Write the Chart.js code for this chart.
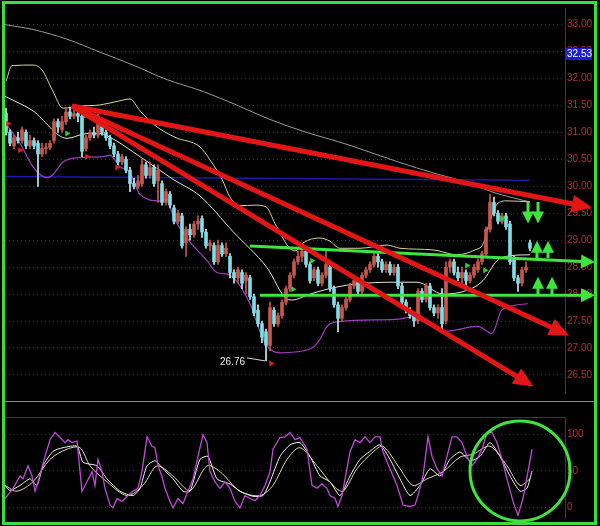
<!DOCTYPE html>
<html>
<head>
<meta charset="utf-8">
<script src="https://cdn.jsdelivr.net/npm/chart.js@4.4.1/dist/chart.umd.min.js"></script>
<style>
  html, body { margin: 0; padding: 0; background: #000; }
  #wrap { position: relative; width: 600px; height: 526px; background: #000; overflow: hidden; }
  #main { position: absolute; left: 0; top: 0; }
  #osc { position: absolute; left: 0; top: 402px; }
  #sep { position: absolute; left: 5px; top: 401px; width: 590px; height: 1px; background: #8c8c8c; }
  #frame { position: absolute; left: 2px; top: 1px; width: 595px; height: 524px; box-sizing: border-box;
           border: 3px solid #3cdc3c; pointer-events: none; }
</style>
</head>
<body>
<div id="wrap">
  <canvas id="main" width="600" height="401"></canvas>
  <div id="sep"></div>
  <canvas id="osc" width="600" height="124"></canvas>
  <div id="frame"></div>
</div>
<script>
// ---- price bars (one per bar index) ----
const opens = [31.35,31.0,30.75,30.9,30.85,31.0,30.75,30.85,30.8,30.6,
  30.7,30.72,30.85,31.2,31.05,31.2,31.38,31.3,31.35,31.3,
  30.7,30.9,31.0,30.95,31.2,31.0,30.9,30.75,30.6,30.45,
  30.5,30.3,30.05,30.0,30.05,30.4,30.2,30.35,30.1,30.05,
  29.7,29.85,29.6,29.35,29.45,28.95,29.2,29.1,29.3,29.4,
  29.15,28.9,28.9,28.6,28.9,28.75,28.7,28.4,28.3,28.4,
  28.25,28.3,27.95,27.7,27.45,27.3,27.05,27.7,27.45,27.6,
  27.85,28.1,28.35,28.6,28.7,28.8,28.55,28.3,28.45,28.2,
  28.35,28.5,28.1,27.8,27.55,27.75,27.9,28.15,28.25,28.05,
  28.35,28.45,28.55,28.7,28.6,28.45,28.55,28.4,28.5,28.15,
  27.85,27.7,27.6,27.5,28.05,27.9,28.15,27.75,27.65,27.75,
  27.5,28.5,28.6,28.4,28.3,28.4,28.25,28.35,28.45,28.6,
  28.75,29.2,29.7,29.5,29.35,29.45,29.3,28.65,28.3,28.2,
  28.45,28.95];
const closes = [31.0,30.8,30.9,30.85,31.05,30.75,30.85,30.75,30.6,30.7,
  30.72,30.8,31.2,31.1,31.2,31.38,31.3,31.35,31.3,30.65,
  30.9,31.0,30.95,31.25,31.0,30.9,30.75,30.6,30.45,30.55,
  30.3,30.05,30.0,30.1,30.4,30.2,30.35,30.05,30.3,29.7,
  29.9,29.65,29.35,29.5,28.9,29.2,29.1,29.3,29.35,29.15,
  28.9,28.95,28.6,28.9,28.75,28.85,28.4,28.3,28.45,28.2,
  28.35,27.95,27.65,27.45,27.2,27.05,27.75,27.45,27.6,27.85,
  28.1,28.35,28.6,28.7,28.8,28.55,28.25,28.45,28.2,28.35,
  28.55,28.1,27.8,27.55,27.75,27.9,28.15,28.25,28.05,28.35,
  28.45,28.55,28.7,28.6,28.45,28.55,28.4,28.5,28.15,27.85,
  27.7,27.6,27.5,28.05,27.9,28.15,27.75,27.65,27.75,27.45,
  28.5,28.6,28.4,28.3,28.4,28.25,28.35,28.5,28.6,28.75,
  29.2,29.7,29.5,29.35,29.45,29.25,28.6,28.3,28.2,28.45,
  28.5,28.85];
const highs = [31.45,31.05,30.95,31.0,31.1,31.05,30.95,30.9,30.85,30.8,
  30.8,30.85,31.25,31.25,31.3,31.45,31.47,31.42,31.4,31.35,
  30.95,31.05,31.1,31.35,31.25,31.05,30.95,30.8,30.65,30.6,
  30.55,30.35,30.15,30.2,30.5,30.45,30.45,30.4,30.4,30.1,
  29.95,29.9,29.65,29.55,29.5,29.25,29.3,29.35,29.45,29.45,
  29.2,29.0,28.95,29.0,28.95,28.95,28.75,28.45,28.5,28.45,
  28.4,28.35,28.0,27.8,27.5,27.35,27.85,27.75,27.65,27.9,
  28.15,28.4,28.65,28.8,28.85,28.85,28.6,28.5,28.5,28.4,
  28.8,28.55,28.15,27.85,27.8,27.95,28.2,28.3,28.3,28.4,
  28.5,28.6,28.75,28.75,28.65,28.6,28.6,28.55,28.55,28.2,
  27.9,27.75,27.65,28.1,28.1,28.2,28.2,27.8,27.8,28.1,
  28.6,28.65,28.65,28.5,28.5,28.45,28.4,28.55,28.65,28.8,
  29.25,29.85,29.8,29.55,29.5,29.5,29.35,28.7,28.35,28.5,
  28.6,29.0];
const lows = [30.95,30.75,30.7,30.8,30.8,30.7,30.7,30.7,30.0,30.55,
  30.6,30.68,30.8,31.0,31.0,31.15,31.25,31.25,31.2,30.55,
  30.65,30.85,30.9,30.9,30.95,30.85,30.7,30.55,30.4,30.4,
  30.25,29.9,29.95,29.95,30.0,30.15,30.15,30.0,29.7,29.65,
  29.65,29.6,29.3,29.3,28.85,28.7,29.0,29.05,29.2,29.05,
  28.85,28.8,28.55,28.55,28.7,28.7,28.3,28.2,28.2,28.1,
  28.0,27.9,27.6,27.4,27.1,26.76,26.95,27.4,27.4,27.55,
  27.8,28.05,28.3,28.55,28.6,28.5,28.2,28.25,28.15,28.15,
  28.3,28.05,27.75,27.3,27.5,27.7,27.85,28.1,28.0,28.0,
  28.3,28.4,28.5,28.5,28.4,28.4,28.35,28.35,28.1,27.8,
  27.65,27.55,27.4,27.45,27.85,27.85,27.7,27.6,27.55,27.3,
  27.45,28.4,28.35,28.25,28.2,28.15,28.2,28.3,28.4,28.55,
  28.7,29.15,29.45,29.3,29.3,29.2,28.55,28.25,28.05,28.15,
  28.4,28.8];
const priceTicks = [26.5,27.0,27.5,28.0,28.5,29.0,29.5,30.0,30.5,31.0,31.5,32.0,32.5,33.0];
const lastPrice = 32.53;
const lowIdx = 65;

// ---- overlays on the price panel (bar index, price) ----
const maIdx = [-0.25,6.75,15.25,23.5,31.75,40.25,48.5,57,65,73.5,86,98.5,106.75,115.25,121.75,126,131];
const maVal = [33.0,32.91,32.73,32.49,32.25,31.98,31.78,31.53,31.27,31.04,30.76,30.44,30.25,30.07,29.89,29.8,29.71];
const upIdx = [0,1.5,6.75,9,11.5,14.25,18.5,23.5,28,31,33.5,37.25,42.25,48.5,51,54,56,58.5,62.25,65,67.25,70.5,72.25,74.25,78.5,81,83.5,88.5,95.25,98.5,106.75,112.75,117.25,119.25,121,122.75,125.25,131];
const upVal = [31.95,32.24,32.25,32.16,31.8,31.45,31.49,31.51,31.58,31.62,31.4,31.13,30.91,30.73,30.49,30.13,29.8,29.64,29.65,29.62,29.31,28.89,28.8,28.95,29.04,28.98,28.85,28.85,28.91,28.85,28.82,28.73,28.82,28.93,29.36,29.67,29.73,29.71];
const midIdx = [-0.25,6.75,15.25,20.25,23.5,26,33.5,41.75,48.5,56.75,65.25,70.25,71.75,75.25,80.25,86.75,96.75,102.75,109.25,115.25,119.25,122.75,126,131];
const midVal = [31.67,31.4,30.89,30.98,30.98,30.91,30.55,30.13,29.82,29.16,28.49,27.91,27.89,27.98,28.09,28.18,28.22,28.22,28.0,28.07,28.25,28.62,28.71,28.73];
const lowBIdx = [0.25,3.5,6.75,10.25,11.75,14.25,17.75,24.25,26,28.5,31,33.5,38.5,40.25,41.75,45.25,50.25,52.75,56,61,63.5,65.25,68.5,76,78.5,80.25,83.5,97.25,102.25,109.75,118,121.5,124,130.5];
const lowBVal = [31.13,30.8,30.36,30.16,30.22,30.45,30.53,30.55,30.58,30.36,30.25,29.85,29.73,29.76,29.45,29.04,28.62,28.4,28.35,27.82,27.31,27.04,26.91,26.98,27.16,27.4,27.49,27.53,27.58,27.31,27.4,27.27,27.71,27.82];
const blueIdx = [-0.25, 131];
const blueVal = [30.18, 30.11];

// ---- drawn trend lines ----
const redFrom = [16.5, 31.49];
const redEndIdx = [144, 138.5, 129.75];
const redEndVal = [29.64, 27.31, 26.38];
const greenStartIdx = [61, 63.5];
const greenStartVal = [28.89, 27.98];
const greenEndIdx = [145.5, 145.5];
const greenEndVal = [28.6, 27.98];
const vArrowIdx = [130.5, 133, 132.75, 135.5, 133, 136.5];
const vArrowFrom = [29.71, 29.71, 28.67, 28.67, 28.0, 28.0];
const vArrowTo = [29.42, 29.42, 28.88, 28.88, 28.21, 28.21];
const redMarkIdx = [0.5, 3.5, 20.25, 27.75, 66.25];
const redMarkVal = [31.16, 30.67, 30.55, 30.35, 26.71];
const greenMarkIdx = [15.25, 19.75, 24.75, 71.75, 76.5, 115.25, 119.75, 124];
const greenMarkVal = [30.98, 31.31, 31.18, 28.09, 28.62, 28.53, 28.44, 29.4];

// ---- stochastic panel (bar index, value) ----
const kIdx = [-0.25,1.75,3.5,4.25,5.5,6.5,7.25,8,9.75,11,12.25,13.5,14.75,15.5,16.5,17.75,19,20.25,21.5,22.25,23,24,24.75,26,26.75,27.75,29,30.5,31.75,33,34,35.25,36.5,37.25,38,39,39.75,41,41.75,43,44.25,45.5,46.75,48,49.25,50.25,51,52.25,53.5,54.75,56,57.25,58.5,59.75,61,62.25,63.5,64.75,66,66.75,68.5,69.75,71,72.25,73.5,75.25,76.5,77.75,79,80.25,81,82.25,83,84,86,87.25,88.5,89.75,91,92.25,93.5,94.25,96,97.75,99.25,101,102.25,103,104.25,105.5,106.5,107.75,109,110.25,111.5,112.75,114,115.25,116.5,117.75,119,120.25,121.5,122.75,124,125.25,126.75,128,129.25,130.5,131.5];
const kVal = [12,26,43,39,57,43,22,35,70,93,103,96,89,93,89,91,22,35,49,30,66,49,26,3,-1,12,8,16,22,26,49,97,84,82,57,42,26,8,-1,12,5,22,39,70,100,89,49,35,26,35,26,8,-1,16,12,9,16,30,49,80,96,97,103,93,96,80,30,26,32,26,16,12,1,16,76,93,89,97,89,97,97,76,53,30,3,1,3,16,43,97,70,53,43,70,97,97,89,70,57,66,80,103,103,89,66,39,8,-11,12,49,80];
const dIdx = [-0.25,1,3.5,6,7.75,9.25,11.75,14.25,17.75,19.25,22.75,25.25,28.5,31.75,33.5,35.25,37.25,39.25,41.75,44.25,46,48.5,50.5,52.75,56,58.5,61.75,64.25,66,68.5,71,73.5,76,78.5,81,83.5,86,88.5,91,93.5,96,98.5,101,103.5,106,108.5,111,113.5,116,118.5,121,123.5,126,128.5,130.25,131.5];
const dVal = [30,23,30,39,30,57,77,82,84,62,57,39,22,16,26,57,64,53,39,22,22,66,70,39,32,22,15,16,35,70,86,89,70,43,35,16,43,66,77,86,66,39,16,30,53,43,66,76,64,70,89,70,43,22,26,50];
const sIdx = [-0.25,2.75,6.75,11,15.25,18.5,21,25.25,30.25,34.25,37.75,41.75,46,50.25,53.5,58.5,63.5,66.75,70.25,73.5,77.75,81.75,84.25,87.75,91.75,94.25,98.5,101.75,105.25,109.25,113.5,116.75,121,125.25,128.5,131];
const sVal = [30,22,35,66,80,82,57,35,16,30,57,43,23,57,49,22,16,30,66,82,57,30,22,53,76,84,53,30,39,49,69,73,84,57,30,39];
const oscTicks = [0, 50, 100];
const circleIdx = 128.5, circleVal = 50;

const xMin = -0.25, xMax = 139.75;
const pts = (xs, ys) => xs.map((x, i) => ({ x, y: ys[i] }));

const RED = '#e31616', GREEN = '#3ce63c';
const UPC = '#c9574b', DOWNC = '#7fdde8';

const arrowHeads = {
  id: 'arrowHeads',
  afterDatasetsDraw(chart) {
    const ctx = chart.ctx;
    chart.data.datasets.forEach((ds, i) => {
      if (!ds.arrowSize) return;
      const p = chart.getDatasetMeta(i).data;
      const tip = p[p.length - 1], back = p[p.length - 2];
      const a = Math.atan2(tip.y - back.y, tip.x - back.x);
      const [len, half] = ds.arrowSize;
      ctx.save();
      ctx.translate(tip.x, tip.y);
      ctx.rotate(a);
      ctx.beginPath();
      ctx.moveTo(len * 0.5, 0);
      ctx.lineTo(-len * 0.5, -half);
      ctx.lineTo(-len * 0.5, half);
      ctx.closePath();
      ctx.fillStyle = ds.borderColor;
      ctx.fill();
      ctx.restore();
    });
  }
};

const priceLabels = {
  id: 'priceLabels',
  afterDraw(chart) {
    const { ctx, chartArea } = chart;
    const x = chart.scales.x, y = chart.scales.y;
    // low marker
    const lx = x.getPixelForValue(lowIdx), ly = y.getPixelForValue(lows[lowIdx]);
    ctx.save();
    ctx.strokeStyle = '#d8d8d8';
    ctx.lineWidth = 1;
    ctx.beginPath();
    ctx.moveTo(lx - 19, ly - 3);
    ctx.lineTo(lx - 1, ly);
    ctx.stroke();
    ctx.fillStyle = '#e8e8e8';
    ctx.font = '10px "Liberation Sans", Arial, sans-serif';
    ctx.textAlign = 'right';
    ctx.textBaseline = 'middle';
    ctx.fillText(lows[lowIdx].toFixed(2), lx - 21, ly + 1);
    // last price tag
    const py = y.getPixelForValue(lastPrice) + 4;
    ctx.fillStyle = '#1c1cd2';
    ctx.fillRect(chartArea.right + 1, py - 6, 26, 12);
    ctx.fillStyle = '#ffffff';
    ctx.textAlign = 'left';
    ctx.fillText(lastPrice.toFixed(2), chartArea.right + 2, py + 0.5);
    ctx.restore();
  }
};

const line = (data, color, width, extra) => Object.assign({
  type: 'line', data, borderColor: color, borderWidth: width, pointRadius: 0,
  fill: false, cubicInterpolationMode: 'monotone'
}, extra || {});

const datasets = [];
// trend lines (drawn on top)
redEndIdx.forEach((ei, k) => datasets.push(line(
  [{ x: redFrom[0], y: redFrom[1] }, { x: ei, y: redEndVal[k] }],
  RED, 5, { order: 0, clip: false, arrowSize: [20, 9] })));
greenStartIdx.forEach((si, k) => datasets.push(line(
  [{ x: si, y: greenStartVal[k] }, { x: greenEndIdx[k], y: greenEndVal[k] }],
  GREEN, 3, { order: 0, clip: false, arrowSize: [14, 7] })));
vArrowIdx.forEach((xi, k) => datasets.push(line(
  [{ x: xi, y: vArrowFrom[k] }, { x: xi, y: vArrowTo[k] }],
  GREEN, 3, { order: 0, clip: false, arrowSize: [12, 6] })));
datasets.push({ type: 'scatter', data: pts(redMarkIdx, redMarkVal), pointStyle: 'triangle', rotation: 90,
  pointRadius: 3.5, backgroundColor: '#e02020', borderColor: '#e02020', borderWidth: 0, order: 1 });
datasets.push({ type: 'scatter', data: pts(greenMarkIdx, greenMarkVal), pointStyle: 'triangle', rotation: 90,
  pointRadius: 3.5, backgroundColor: '#30d030', borderColor: '#30d030', borderWidth: 0, order: 1 });
// candles
const wickColor = c => (closes[c.dataIndex] >= opens[c.dataIndex] ? UPC : '#bfeff4');
const bodyColor = c => (closes[c.dataIndex] >= opens[c.dataIndex] ? UPC : DOWNC);
datasets.push({ type: 'bar', data: opens.map((o, i) => ({ x: i, y: [lows[i], highs[i]] })),
  backgroundColor: wickColor, barThickness: 1, grouped: false, order: 6 });
datasets.push({ type: 'bar', data: opens.map((o, i) => ({ x: i, y: [o, closes[i] === o ? o + 0.02 : closes[i]] })),
  backgroundColor: bodyColor, barThickness: 3, grouped: false, order: 5 });
// indicators
datasets.push(line(pts(maIdx, maVal), '#9a9a9a', 1, { order: 8 }));
datasets.push(line(pts(upIdx, upVal), '#d8d49a', 1, { order: 7 }));
datasets.push(line(pts(midIdx, midVal), '#e6e6dc', 1, { order: 7 }));
datasets.push(line(pts(lowBIdx, lowBVal), '#a03cc0', 1.2, { order: 7 }));
datasets.push(line(pts(blueIdx, blueVal), '#1a1aae', 1.5, { order: 9 }));

const tickFont = { family: '"Liberation Sans", Arial, sans-serif', size: 10 };

new Chart(document.getElementById('main'), {
  type: 'bar',
  data: { datasets },
  options: {
    responsive: false,
    animation: false,
    layout: { padding: { left: 5, top: 5, right: 0, bottom: 3 } },
    plugins: { legend: { display: false }, tooltip: { enabled: false } },
    scales: {
      x: { type: 'linear', min: xMin, max: xMax, display: false, offset: false },
      y: {
        position: 'right', min: 26.164, max: 33.309, beginAtZero: false,
        afterBuildTicks: s => { s.ticks = priceTicks.map(v => ({ value: v })); },
        afterFit: s => { s.width = 35; },
        grid: { color: '#6e1e1e', drawTicks: false },
        border: { color: '#7a2020', dash: [1, 3] },
        ticks: { color: '#b83028', font: tickFont, padding: 2, callback: v => v.toFixed(2) }
      }
    }
  },
  plugins: [arrowHeads, priceLabels]
});

const oscDecor = {
  id: 'oscDecor',
  beforeDatasetsDraw(chart) {
    const { ctx, chartArea } = chart;
    ctx.save();
    ctx.strokeStyle = '#7a2020';
    ctx.lineWidth = 1;
    ctx.beginPath();
    ctx.moveTo(chartArea.left, chartArea.top + 0.5);
    ctx.lineTo(chartArea.right, chartArea.top + 0.5);
    ctx.stroke();
    ctx.restore();
  },
  afterDraw(chart) {
    const { ctx } = chart;
    const cx = chart.scales.x.getPixelForValue(circleIdx);
    const cy = chart.scales.y.getPixelForValue(circleVal);
    ctx.save();
    ctx.strokeStyle = GREEN;
    ctx.lineWidth = 3;
    ctx.beginPath();
    ctx.arc(cx, cy, 50, 0, Math.PI * 2);
    ctx.stroke();
    ctx.restore();
  }
};

new Chart(document.getElementById('osc'), {
  type: 'line',
  data: {
    datasets: [
      line(pts(sIdx, sVal), '#e2dea0', 1, { order: 3, cubicInterpolationMode: 'default', tension: 0.3 }),
      line(pts(dIdx, dVal), '#f4f4f4', 1, { order: 2, cubicInterpolationMode: 'default', tension: 0.2 }),
      line(pts(kIdx, kVal), '#c248d8', 1.3, { order: 1, cubicInterpolationMode: 'default', tension: 0 })
    ]
  },
  options: {
    responsive: false,
    animation: false,
    layout: { padding: { left: 5, top: 15, right: 0, bottom: 6 } },
    plugins: { legend: { display: false }, tooltip: { enabled: false } },
    scales: {
      x: { type: 'linear', min: xMin, max: xMax, display: false },
      y: {
        position: 'right', min: -14.9, max: 124.3,
        afterBuildTicks: s => { s.ticks = oscTicks.map(v => ({ value: v })); },
        afterFit: s => { s.width = 35; },
        grid: { color: '#6e1e1e', drawTicks: false },
        border: { color: '#7a2020', dash: [1, 3] },
        ticks: { color: '#b83028', font: tickFont, padding: 2 }
      }
    }
  },
  plugins: [oscDecor]
});
</script>
</body>
</html>
